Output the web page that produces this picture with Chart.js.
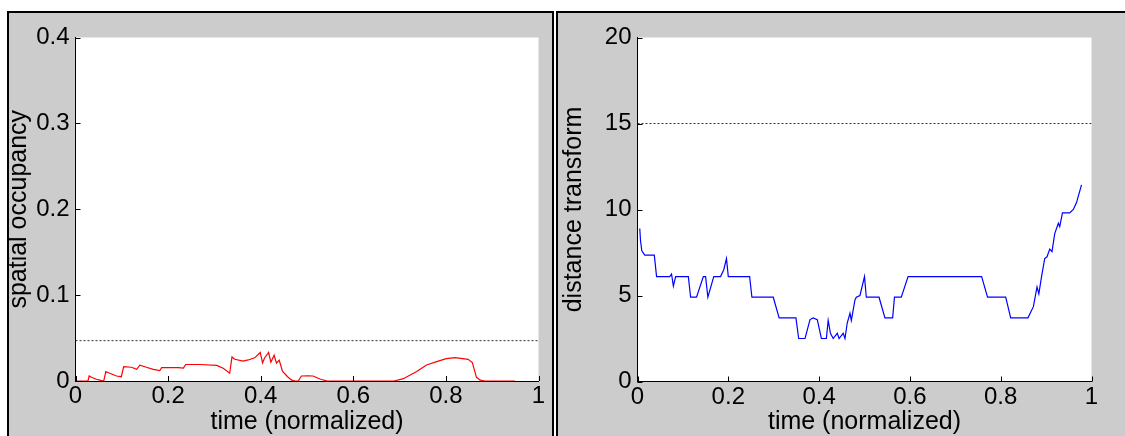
<!DOCTYPE html>
<html>
<head>
<meta charset="utf-8">
<script src="https://cdn.jsdelivr.net/npm/chart.js@4.4.1/dist/chart.umd.min.js"></script>
<style>
  html, body { margin: 0; padding: 0; background: #fff; overflow: hidden; }
  body { width: 1125px; height: 436px; position: relative; }
  .panel { position: absolute; top: 11px; background: #cccccc; overflow: hidden; border-top: 2px solid #000; border-left: 2px solid #000; }
  #left-panel { left: 7px; width: 543px; height: 440px; border-right: 2px solid #000; }
  #right-panel { left: 556px; width: 580px; height: 440px; }
  canvas { position: absolute; }
  #occ-chart { left: -9px; top: -13px; }
  #dist-chart { left: -13px; top: -13px; }
</style>
</head>
<body>
<div class="panel" id="left-panel"><canvas id="occ-chart" width="554" height="436"></canvas></div>
<div class="panel" id="right-panel"><canvas id="dist-chart" width="580" height="436"></canvas></div>
<script>
// x tick labels shared by both panels
const timeTicks = ['0', '0.2', '0.4', '0.6', '0.8', '1'];

// left: spatial occupancy
const occTicks = ['0', '0.1', '0.2', '0.3', '0.4'];
const occThreshold = 0.047;
const occTime = [
  0, 0.027, 0.0295, 0.0346, 0.045, 0.0526, 0.061, 0.0655,
  0.074, 0.0886, 0.099, 0.104, 0.121, 0.132, 0.139, 0.153,
  0.168, 0.182, 0.186, 0.204, 0.222, 0.233, 0.238, 0.269,
  0.305, 0.319, 0.333, 0.338, 0.344, 0.362, 0.373, 0.387,
  0.399, 0.404, 0.408, 0.417, 0.422, 0.429, 0.434, 0.44,
  0.447, 0.458, 0.467, 0.474, 0.481, 0.488, 0.502, 0.513,
  0.528, 0.544, 0.688, 0.708, 0.737, 0.758, 0.78, 0.801,
  0.82, 0.848, 0.857, 0.862, 0.866, 0.874, 0.884, 0.949,
];
const occValue = [
  0, 0, 0.0058, 0.0043, 0.002, 0.001, 0, 0.011,
  0.009, 0.0058, 0.005, 0.0168, 0.016, 0.0136, 0.0185, 0.016,
  0.0136, 0.012, 0.0155, 0.0155, 0.0155, 0.015, 0.0192, 0.0192,
  0.0182, 0.0148, 0.009, 0.028, 0.0253, 0.0232, 0.0245, 0.027,
  0.0332, 0.021, 0.0265, 0.0332, 0.022, 0.03, 0.0208, 0.0242,
  0.0115, 0.005, 0.001, 0, 0, 0.0058, 0.006, 0.0058,
  0.0023, 0, 0, 0.0027, 0.011, 0.0187, 0.0226, 0.026,
  0.0273, 0.0252, 0.0215, 0.012, 0.0043, 0.001, 0, 0,
];

// right: distance transform
const distTicks = ['0', '5', '10', '15', '20'];
const distThreshold = 15;
const distTime = [
  0.005, 0.0066, 0.0095, 0.016, 0.037, 0.042, 0.071, 0.075,
  0.079, 0.084, 0.112, 0.117, 0.13, 0.145, 0.15, 0.155,
  0.168, 0.183, 0.19, 0.196, 0.2, 0.247, 0.252, 0.299,
  0.312, 0.349, 0.355, 0.369, 0.38, 0.387, 0.396, 0.405,
  0.416, 0.42, 0.425, 0.431, 0.44, 0.444, 0.453, 0.457,
  0.462, 0.468, 0.471, 0.479, 0.482, 0.49, 0.5, 0.504,
  0.532, 0.545, 0.562, 0.566, 0.581, 0.596, 0.758, 0.771,
  0.811, 0.822, 0.86, 0.872, 0.88, 0.884, 0.89, 0.897,
  0.902, 0.908, 0.913, 0.919, 0.927, 0.93, 0.936, 0.952,
  0.96, 0.967, 0.978,
];
const distValue = [
  8.9, 8.2, 7.6, 7.35, 7.35, 6.1, 6.1, 6.25,
  5.55, 6.1, 6.1, 4.9, 4.9, 6.1, 6.1, 4.9,
  6.1, 6.1, 6.5, 7.15, 6.1, 6.1, 4.9, 4.9,
  3.7, 3.7, 2.5, 2.5, 3.6, 3.7, 3.6, 2.5,
  2.5, 3.55, 2.8, 2.5, 2.8, 2.5, 2.8, 2.5,
  3.4, 3.97, 3.55, 4.74, 4.9, 5.0, 6.1, 4.9,
  4.9, 3.7, 3.7, 4.9, 4.9, 6.1, 6.1, 4.9,
  4.9, 3.7, 3.7, 4.35, 5.5, 5.1, 6.1, 7.15,
  7.25, 7.7, 7.55, 8.6, 9.2, 9.0, 9.8, 9.8,
  10.0, 10.4, 11.43,
];

const FONT = "'Liberation Sans', Arial, sans-serif";

// white axes box and MATLAB-style inward ticks
const matlabAxes = {
  id: 'matlabAxes',
  beforeDraw(chart) {
    const { ctx, chartArea: a } = chart;
    ctx.save();
    ctx.fillStyle = '#fff';
    ctx.fillRect(a.left, a.top, a.right - a.left, a.bottom - a.top);
    ctx.restore();
  },
  afterDraw(chart) {
    const { ctx, chartArea: a, scales } = chart;
    ctx.save();
    ctx.strokeStyle = '#000';
    ctx.lineWidth = 1;
    ctx.beginPath();
    scales.x.ticks.forEach((t) => {
      const px = Math.round(scales.x.getPixelForValue(t.value)) + 0.5;
      ctx.moveTo(px, a.bottom);
      ctx.lineTo(px, a.bottom - 5);
    });
    scales.y.ticks.forEach((t) => {
      const py = Math.round(scales.y.getPixelForValue(t.value)) + 0.5;
      ctx.moveTo(a.left, py);
      ctx.lineTo(a.left + 5, py);
    });
    ctx.stroke();
    ctx.restore();
  },
};

function makePanel({ canvasId, times, values, color, threshold, yMax, yStep, yTicks, yTitle, box }) {
  const canvas = document.getElementById(canvasId);
  const points = times.map((t, i) => ({ x: t, y: values[i] }));

  return new Chart(canvas, {
    type: 'line',
    data: {
      datasets: [
        {
          data: [{ x: 0, y: threshold }, { x: 1, y: threshold }],
          borderColor: '#333',
          borderWidth: 1,
          borderDash: [2, 2],
          pointRadius: 0,
        },
        {
          data: points,
          borderColor: color,
          borderWidth: 1.2,
          pointRadius: 0,
          tension: 0,
        },
      ],
    },
    options: {
      responsive: false,
      animation: false,
      events: [],
      layout: { padding: { left: 0, top: box.top, right: canvas.width - box.right, bottom: 0 } },
      plugins: { legend: { display: false }, tooltip: { enabled: false } },
      scales: {
        x: {
          type: 'linear',
          min: 0,
          max: 1,
          afterFit: (scale) => { scale.height = canvas.height - box.bottom; },
          afterBuildTicks: (scale) => { scale.ticks = timeTicks.map((_, i) => ({ value: i * 0.2 })); },
          grid: { drawOnChartArea: false, drawTicks: false },
          border: { color: '#000', width: 1 },
          ticks: {
            padding: 1,
            color: '#000',
            font: { family: FONT, size: 24, lineHeight: 1.2 },
            callback: (value, index) => timeTicks[index],
          },
          title: {
            display: true,
            text: 'time (normalized)',
            color: '#000',
            font: { family: FONT, size: 25, lineHeight: 1 },
            padding: { top: 0, bottom: 1 },
          },
        },
        y: {
          min: 0,
          max: yMax,
          afterFit: (scale) => { scale.width = box.left; },
          afterBuildTicks: (scale) => { scale.ticks = yTicks.map((_, i) => ({ value: i * yStep })); },
          grid: { drawOnChartArea: false, drawTicks: false },
          border: { color: '#000', width: 1 },
          ticks: {
            padding: 6,
            color: '#000',
            font: { family: FONT, size: 24, lineHeight: 1.2 },
            callback: (value, index) => yTicks[index],
          },
          title: {
            display: true,
            text: yTitle,
            color: '#000',
            font: { family: FONT, size: 25, lineHeight: 1 },
            padding: { top: box.titleOffset, bottom: 0 },
          },
        },
      },
    },
    plugins: [matlabAxes],
  });
}

makePanel({
  canvasId: 'occ-chart',
  times: occTime,
  values: occValue,
  color: '#ff0000',
  threshold: occThreshold,
  yMax: 0.4,
  yStep: 0.1,
  yTicks: occTicks,
  yTitle: 'spatial occupancy',
  box: { left: 75.5, right: 538.5, top: 37.5, bottom: 381, titleOffset: 7 },
});

makePanel({
  canvasId: 'dist-chart',
  times: distTime,
  values: distValue,
  color: '#0000ff',
  threshold: distThreshold,
  yMax: 20,
  yStep: 5,
  yTicks: distTicks,
  yTitle: 'distance transform',
  box: { left: 92.5, right: 546.5, top: 37.5, bottom: 381.5, titleOffset: 17 },
});
</script>
</body>
</html>
